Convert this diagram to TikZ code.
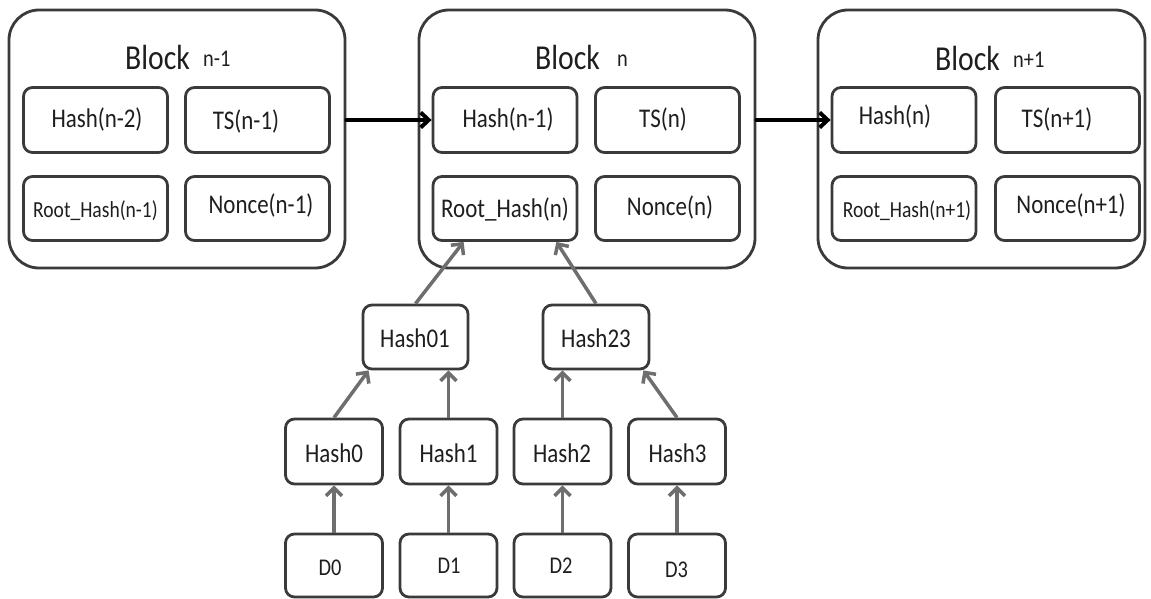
\documentclass[tikz,border=0pt]{standalone}
\usepackage{fontspec}
\setmainfont{Carlito}[FakeStretch=0.85]
\usetikzlibrary{arrows.meta}
\definecolor{edge}{HTML}{3A3A3A}
\definecolor{link}{HTML}{6E6E6E}
\definecolor{ink}{HTML}{1E1E1E}
\begin{document}
\begin{tikzpicture}[x=1pt,y=-1pt,
  block/.style={draw=edge, line width=2.8pt, rounded corners=30pt, inner sep=0pt,
                minimum width=#1, minimum height=258pt},
  cell/.style={draw=edge, line width=2.8pt, rounded corners=9pt, inner sep=0pt,
               minimum width=144pt, minimum height=65pt},
  leaf/.style={cell, minimum width=97pt, minimum height=64pt},
  txt/.style={anchor=base, inner sep=0pt, text=ink, font=\fontsize{27}{30}\selectfont},
  smalltxt/.style={txt, font=\fontsize{23}{26}\selectfont},
  dtxt/.style={txt, font=\fontsize{24}{28}\selectfont},
  title/.style={anchor=base west, inner sep=0pt, text=ink, font=\fontsize{35}{40}\selectfont},
  subtitle/.style={title, font=\fontsize{24}{28}\selectfont},
  chain/.style={draw=black, line width=4pt, line cap=round,
                -{Straight Barb[length=8pt,width=15pt]}},
  hashlink/.style={draw=link, line width=3.5pt,
                   -{Straight Barb[length=8pt,width=16pt]}}
]
\useasboundingbox (0,0) rectangle (1151,599);

% ---- the three chained blocks ----
\node[block=336pt] (Bp) at (177,139) {};
\node[block=336pt] (Bn) at (587,139) {};
\node[block=327pt] (Bs) at (981.5,139) {};

\node[title]    (Bpt) at (125,70) {Block};
\node[subtitle] (Bps) at (203,67) {n-1};
\node[title]    (Bnt) at (535,70) {Block};
\node[subtitle] (Bns) at (617,67) {n};
\node[title]    (Bst) at (935,71) {Block};
\node[subtitle] (Bss) at (1013,68) {n+1};

% block n-1 fields
\node[cell] (pH) at (95.5,120) {};
\node[cell] (pT) at (257.5,120) {};
\node[cell, minimum height=64pt] (pR) at (95.5,208.5) {};
\node[cell, minimum height=64pt] (pN) at (257.5,208.5) {};
\node[txt]      (pHt) at (97,128)  {Hash(n-2)};
\node[txt]      (pTt) at (246,130) {TS(n-1)};
\node[smalltxt] (pRt) at (95.5,217) {Root\_Hash(n-1)};
\node[txt]      (pNt) at (261,213) {Nonce(n-1)};

% block n fields
\node[cell] (bH) at (505,120) {};
\node[cell] (bT) at (667.5,120) {};
\node[cell, minimum height=64pt] (bR) at (505,208.5) {};
\node[cell, minimum height=64pt] (bN) at (667.5,208.5) {};
\node[txt] (bHt) at (508,128) {Hash(n-1)};
\node[txt] (bTt) at (663,128) {TS(n)};
\node[txt] (bRt) at (505,217) {Root\_Hash(n)};
\node[txt] (bNt) at (670,215) {Nonce(n)};

% block n+1 fields
\node[cell] (sH) at (904,120) {};
\node[cell] (sT) at (1067.5,120) {};
\node[cell, minimum height=64pt] (sR) at (904,208.5) {};
\node[cell, minimum height=64pt] (sN) at (1067.5,208.5) {};
\node[txt]      (sHt) at (895,125)  {Hash(n)};
\node[txt]      (sTt) at (1057,128) {TS(n+1)};
\node[smalltxt] (sRt) at (907,217)  {Root\_Hash(n+1)};
\node[txt]      (sNt) at (1071,213) {Nonce(n+1)};

% chain links
\draw[chain] (Bp.east |- bH.west) -- (bH.west);
\draw[chain] (Bn.east |- sH.west) -- (sH.west);

% ---- Merkle tree ----
\node[leaf, minimum width=105pt] (H01) at (415.5,337) {};
\node[leaf, minimum width=106pt] (H23) at (596,337) {};
\node[txt] (H01t) at (415,347) {Hash01};
\node[txt] (H23t) at (596,347) {Hash23};

\node[leaf, minimum height=65pt] (H0) at (334,451.5) {};
\node[leaf, minimum height=65pt] (H1) at (448.5,451.5) {};
\node[leaf, minimum height=65pt] (H2) at (562.5,451.5) {};
\node[leaf, minimum height=65pt] (H3) at (677,451.5) {};
\node[txt] (H0t) at (334,462)   {Hash0};
\node[txt] (H1t) at (448.5,462) {Hash1};
\node[txt] (H2t) at (562,462)   {Hash2};
\node[txt] (H3t) at (677.5,462) {Hash3};

\node[leaf, minimum height=63pt] (D0) at (334,565.5) {};
\node[leaf, minimum height=63pt] (D1) at (448.5,565.5) {};
\node[leaf, minimum height=63pt] (D2) at (562.5,565.5) {};
\node[leaf, minimum height=63pt] (D3) at (677,565.5) {};
\node[dtxt] (D0t) at (330,575)   {D0};
\node[dtxt] (D1t) at (449,573)   {D1};
\node[dtxt] (D2t) at (561,573)   {D2};
\node[dtxt] (D3t) at (676.5,577) {D3};

% data -> leaf hashes
\draw[hashlink] (D0.north) -- (H0.south);
\draw[hashlink] (D1.north) -- (H1.south);
\draw[hashlink] (D2.north) -- (H2.south);
\draw[hashlink] (D3.north) -- (H3.south);

% leaf hashes -> pair hashes
\draw[hashlink] (H0.north) -- ([xshift=7pt]H01.south west);
\draw[hashlink] (H1.north) -- (H1.north |- H01.south);
\draw[hashlink] (H2.north) -- (H2.north |- H23.south);
\draw[hashlink] (H3.north) -- ([xshift=-7pt]H23.south east);

% pair hashes -> root hash of block n
\draw[hashlink] (H01.north) -- ([xshift=32pt]bR.south west);
\draw[hashlink] (H23.north) -- ([xshift=-22pt]bR.south east);
\end{tikzpicture}
\end{document}
